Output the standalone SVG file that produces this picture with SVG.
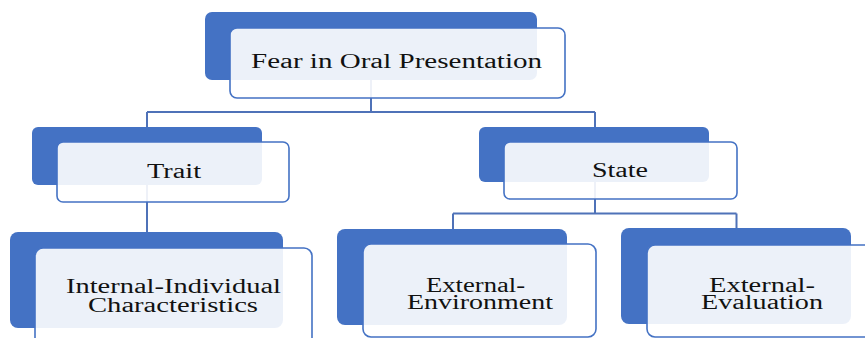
<svg xmlns="http://www.w3.org/2000/svg" width="865" height="338" viewBox="0 0 865 338">
  <style>
    .back { fill: #4472C4; }
    .front { fill: #FFFFFF; fill-opacity: 0.9; stroke: #4472C4; stroke-width: 1.6; }
    .link { fill: none; stroke: #4F72B8; stroke-width: 2; }
    .label { font-family: "Liberation Serif", "Times New Roman", serif; font-size: 20px; fill: #111111; }
  </style>
  <rect width="865" height="338" fill="#FFFFFF"/>

  <!-- connectors (drawn first so the translucent cards sit on top) -->
  <g id="connectors" class="link">
    <path d="M371,80 V112 M147,112 H595 M147,112 V127 M595,112 V127"/>
    <path d="M147,185 V232"/>
    <path d="M595,182 V213.5 M453,213.5 H736.5 M453,213.5 V229 M736.5,213.5 V228"/>
  </g>

  <g id="node-fear">
    <rect class="back" x="205" y="12" width="332" height="68" rx="7"/>
    <rect class="front" x="230" y="28" width="335" height="70" rx="7"/>
    <text class="label" x="251" y="68" textLength="291" lengthAdjust="spacingAndGlyphs">Fear in Oral Presentation</text>
  </g>

  <g id="node-trait">
    <rect class="back" x="32" y="127" width="230" height="58" rx="6"/>
    <rect class="front" x="57" y="142" width="232" height="60" rx="6"/>
    <text class="label" x="147" y="178" textLength="54" lengthAdjust="spacingAndGlyphs">Trait</text>
  </g>

  <g id="node-state">
    <rect class="back" x="479" y="127" width="230" height="55" rx="6"/>
    <rect class="front" x="504" y="142" width="233" height="57" rx="6"/>
    <text class="label" x="592" y="177" textLength="56" lengthAdjust="spacingAndGlyphs">State</text>
  </g>

  <g id="node-internal">
    <rect class="back" x="10" y="232" width="273" height="96" rx="8"/>
    <rect class="front" x="35" y="248" width="277" height="100" rx="8"/>
    <text class="label" x="66" y="293" textLength="215" lengthAdjust="spacingAndGlyphs">Internal-Individual</text>
    <text class="label" x="88" y="312" textLength="170" lengthAdjust="spacingAndGlyphs">Characteristics</text>
  </g>

  <g id="node-environment">
    <rect class="back" x="337" y="229" width="230" height="96" rx="8"/>
    <rect class="front" x="363" y="244" width="233" height="93" rx="8"/>
    <text class="label" x="426" y="292" textLength="99" lengthAdjust="spacingAndGlyphs">External-</text>
    <text class="label" x="407" y="309" textLength="146" lengthAdjust="spacingAndGlyphs">Environment</text>
  </g>

  <g id="node-evaluation">
    <rect class="back" x="621" y="228" width="230" height="96" rx="8"/>
    <rect class="front" x="647" y="245" width="240" height="92" rx="8"/>
    <text class="label" x="709" y="292" textLength="106" lengthAdjust="spacingAndGlyphs">External-</text>
    <text class="label" x="701" y="309" textLength="122" lengthAdjust="spacingAndGlyphs">Evaluation</text>
  </g>
</svg>
